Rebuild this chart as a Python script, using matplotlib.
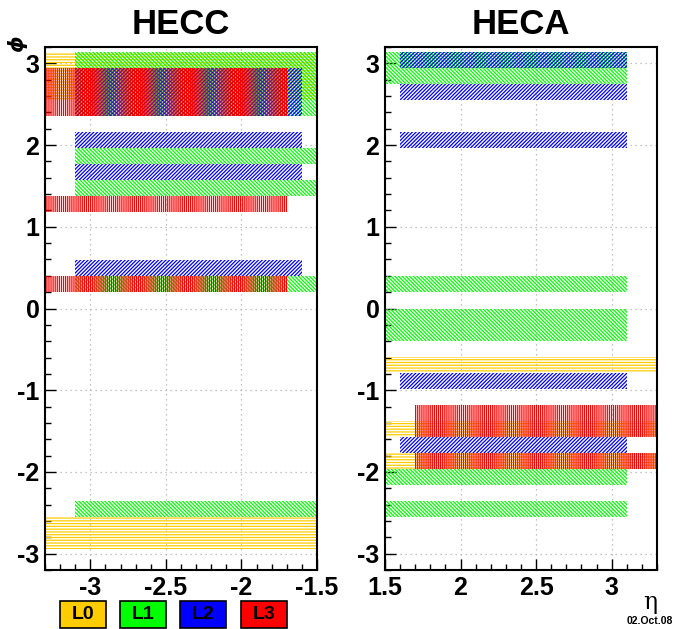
import numpy as np
import matplotlib
matplotlib.use("Agg")
import matplotlib.pyplot as plt
from matplotlib.patches import Rectangle
from matplotlib.ticker import MultipleLocator

# ---- layer definitions -------------------------------------------------
layers = ["L0", "L1", "L2", "L3"]
layer_colors = ["#FFCC00", "#00FF00", "#0000FF", "#FF0000"]
layer_hatches = ["------", "\\" * 9, "/" * 9, "|" * 8]

# eta extent of each layer, per end-cap
hecc_eta = [(-3.3, -1.5), (-3.1, -1.5), (-3.1, -1.6), (-3.3, -1.7)]
heca_eta = [(1.5, 3.3), (1.5, 3.1), (1.6, 3.1), (1.7, 3.3)]

# flagged phi bins: index k covers [k*pi/16, (k+1)*pi/16]
hecc_l0 = [13, 14, 15, -15, -14]
hecc_l1 = [12, 13, 14, 15, 9, 7, 1, -13]
hecc_l2 = [12, 13, 14, 10, 8, 2]
hecc_l3 = [12, 13, 14, 6, 1]

heca_l0 = [-4, -8, -10]
heca_l1 = [15, 14, 1, -1, -2, -11, -13]
heca_l2 = [15, 13, 10, -5, -9]
heca_l3 = [-7, -8, -10]

n_phi = 32
phi_w = 2 * np.pi / n_phi

W, H = 680, 629
plt.rcParams["hatch.linewidth"] = 0.9
plt.rcParams["font.family"] = ["Liberation Sans", "DejaVu Sans"]
plt.rcParams["font.weight"] = "bold"
plt.rcParams["axes.unicode_minus"] = False

fig = plt.figure(figsize=(W / 100, H / 100), dpi=100)
fig.patch.set_facecolor("white")


def px_axes(x0, y0, x1, y1):
    return fig.add_axes([x0 / W, 1 - y1 / H, (x1 - x0) / W, (y1 - y0) / H])


def draw_panel(ax, title, etas, bins, xlim, xmajor):
    for col, hat, (e0, e1), ks in zip(layer_colors, layer_hatches, etas, bins):
        for k in ks:
            ax.add_patch(Rectangle((e0, k * phi_w), e1 - e0, phi_w,
                                   facecolor="none", edgecolor=col,
                                   linewidth=0, hatch=hat, zorder=2))
    ax.set_xlim(*xlim)
    ax.set_ylim(-3.2, 3.2)
    ax.set_xticks(xmajor)
    ax.set_xticklabels([("%g" % v) for v in xmajor])
    ax.xaxis.set_minor_locator(MultipleLocator(0.1))
    ax.set_yticks([-3, -2, -1, 0, 1, 2, 3])
    ax.yaxis.set_minor_locator(MultipleLocator(0.2))
    ax.grid(True, which="major", linestyle=(0, (1, 3)), color="#b0b0b0",
            linewidth=0.9)
    ax.set_axisbelow(True)
    ax.tick_params(which="major", direction="in", length=8, width=1,
                   labelsize=18, pad=4, top=False, right=False)
    ax.tick_params(which="minor", direction="in", length=4, width=1,
                   top=False, right=False)
    for lbl in ax.get_xticklabels() + ax.get_yticklabels():
        lbl.set_fontweight("bold")
    for s in ax.spines.values():
        s.set_linewidth(1.5)
    fig.text((ax.get_position().x0 + ax.get_position().x1) / 2, 1 - 25 / H,
             title, ha="center", va="center", fontsize=25, fontweight="bold")


ax1 = px_axes(45, 47, 317, 570)
draw_panel(ax1, "HECC", hecc_eta, [hecc_l0, hecc_l1, hecc_l2, hecc_l3],
           (-3.3, -1.5), [-3.0, -2.5, -2.0, -1.5])

ax2 = px_axes(385, 47, 657, 570)
draw_panel(ax2, "HECA", heca_eta, [heca_l0, heca_l1, heca_l2, heca_l3],
           (1.5, 3.3), [1.5, 2.0, 2.5, 3.0])

# axis titles
fig.text(18 / W, 1 - 44 / H, r"$\phi$", rotation=90, ha="center",
         va="center", fontsize=15)
fig.text(650 / W, 1 - 603 / H, "η", ha="center", va="center", fontsize=17,
         family="DejaVu Serif", fontweight="normal")
fig.text(650 / W, 1 - 621 / H, "02.Oct.08", ha="center", va="center",
         fontsize=7.5, fontweight="bold")

# layer colour key
box_x = [60, 120, 180, 241]
for x0, name, col in zip(box_x, layers, layer_colors):
    fig.add_artist(Rectangle((x0 / W, 1 - 628 / H), 46 / W, 27 / H,
                             transform=fig.transFigure, facecolor=col,
                             edgecolor="black", linewidth=1.2))
    fig.text((x0 + 23) / W, 1 - 614.5 / H, name, ha="center", va="center",
             fontsize=14, fontweight="bold")

fig.savefig("out.png", dpi=100, facecolor="white")
